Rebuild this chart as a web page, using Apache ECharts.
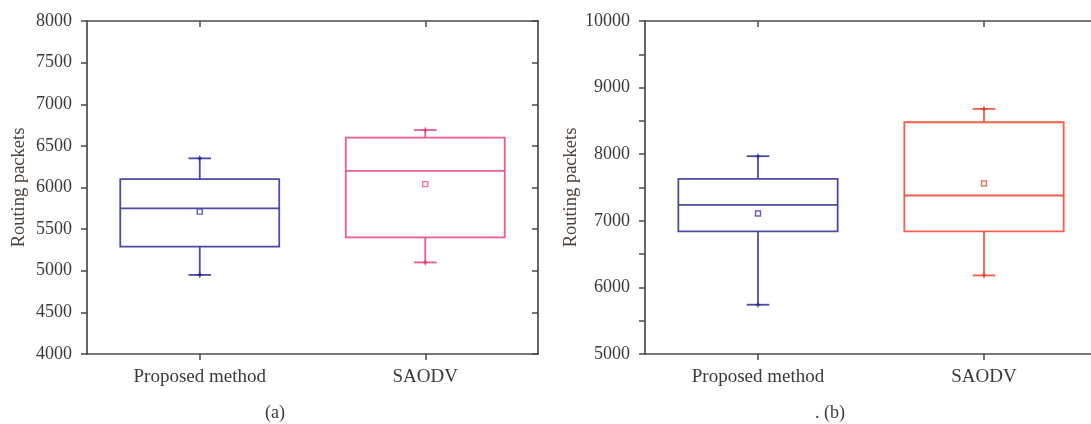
<!DOCTYPE html>
<html><head><meta charset="utf-8">
<script src="https://cdn.jsdelivr.net/npm/echarts@6.0.0/dist/echarts.min.js"></script>
<style>html,body{margin:0;padding:0;background:#fff}#c{width:1091px;height:424px}</style>
</head><body><div id="c"></div>
<script>
// ---------- data ----------
const categories = ['Proposed method', 'SAODV'];
// panel (a): [min, Q1, median, Q3, max]
const boxProposedA = [4950, 5290, 5750, 6100, 6350];
const boxSaodvA    = [5100, 5400, 6200, 6600, 6690];
const meanA = [5710, 6040];
// panel (b)
const boxProposedB = [5740, 6840, 7240, 7630, 7970];
const boxSaodvB    = [6180, 6840, 7380, 8480, 8680];
const meanB = [7110, 7560];
// axes
const yTicksA = [4000, 4500, 5000, 5500, 6000, 6500, 7000, 7500, 8000];
const yTicksB = [5000, 6000, 7000, 8000, 9000, 10000];
const yName = 'Routing packets';
const subtitleA = '(a)';
const subtitleB = '. (b)';

// ---------- style ----------
const FONT = '"Liberation Serif", "DejaVu Serif", serif';
const TXT = '#3a3a3a';
const AX = '#4a4a4a';
const colorsA = ['#3f3c9e', '#ec4f84'];
const colorsB = ['#3f3c9e', '#f0503a'];
const capMarkA = ['#2e2b80', '#d83a70'];
const capMarkB = ['#2e2b80', '#e0402a'];

function boxRender(colors) {
  return function (params, api) {
    const i = api.value(0);
    const pLo = api.coord([i, api.value(1)]);
    const pQ1 = api.coord([i, api.value(2)]);
    const pMed = api.coord([i, api.value(3)]);
    const pQ3 = api.coord([i, api.value(4)]);
    const pHi = api.coord([i, api.value(5)]);
    const band = api.size([1, 0])[0];
    const bw = band * 0.705, cw = band * 0.1;
    const x = pLo[0];
    const st = { stroke: colors[i], lineWidth: 1.8, fill: null, opacity: 0.92 };
    return {
      type: 'group',
      children: [
        { type: 'rect', shape: { x: x - bw / 2, y: pQ3[1], width: bw, height: pQ1[1] - pQ3[1] }, style: st },
        { type: 'line', shape: { x1: x - bw / 2, y1: pMed[1], x2: x + bw / 2, y2: pMed[1] }, style: st },
        { type: 'line', shape: { x1: x, y1: pQ3[1], x2: x, y2: pHi[1] }, style: st },
        { type: 'line', shape: { x1: x, y1: pQ1[1], x2: x, y2: pLo[1] }, style: st },
        { type: 'line', shape: { x1: x - cw / 2, y1: pHi[1], x2: x + cw / 2, y2: pHi[1] }, style: st },
        { type: 'line', shape: { x1: x - cw / 2, y1: pLo[1], x2: x + cw / 2, y2: pLo[1] }, style: st }
      ]
    };
  };
}

function mkGridAxes(gi, ticks, minor) {
  const min = ticks[0], max = ticks[ticks.length - 1], interval = ticks[1] - ticks[0];
  const line = { show: true, lineStyle: { color: AX, width: 1.7 } };
  const xs = [
    { type: 'category', gridIndex: gi, data: categories, position: 'bottom',
      axisLine: line, axisTick: { show: true, alignWithLabel: true, length: 6, lineStyle: { color: AX, width: 1.5 } },
      axisLabel: { fontFamily: FONT, fontSize: 19, color: TXT, margin: 14 } },
    { type: 'category', gridIndex: gi, data: categories, position: 'top',
      axisLine: line, axisTick: { show: true, inside: true, alignWithLabel: true, length: 6, lineStyle: { color: AX, width: 1.5 } },
      axisLabel: { show: false } }
  ];
  const ys = [
    { type: 'value', gridIndex: gi, position: 'left', min, max, interval,
      name: yName, nameLocation: 'middle', nameGap: gi === 0 ? 58 : 64,
      nameTextStyle: { fontFamily: FONT, fontSize: 18.5, color: '#4a4038' },
      axisLine: line, axisTick: { show: true, length: 6, lineStyle: { color: AX, width: 1.5 } },
      minorTick: { show: minor, splitNumber: 2, length: 6, lineStyle: { color: AX, width: 1.5 } },
      splitLine: { show: false },
      axisLabel: { fontFamily: FONT, fontSize: 18, color: TXT, margin: 15, formatter: v => String(v) } },
    { type: 'value', gridIndex: gi, position: 'right', min, max, interval,
      axisLine: line, axisTick: { show: true, inside: true, length: 6, lineStyle: { color: AX, width: 1.5 } },
      minorTick: { show: minor, splitNumber: 2, length: 6, lineStyle: { color: AX, width: 1.5 } },
      splitLine: { show: false }, axisLabel: { show: false } }
  ];
  return { xs, ys };
}

const gA = mkGridAxes(0, yTicksA, false);
const gB = mkGridAxes(1, yTicksB, true);

function boxData(a, b) { return [[0].concat(a), [1].concat(b)]; }
function meanData(m, colors) {
  return m.map((v, i) => ({ value: [i, v], itemStyle: { color: '#fff', borderColor: colors[i], borderWidth: 1.4 } }));
}
function endData(a, b, colors) {
  const out = [];
  [a, b].forEach((bx, i) => {
    out.push({ value: [i, bx[0]], itemStyle: { color: colors[i] } });
    out.push({ value: [i, bx[4]], itemStyle: { color: colors[i] } });
  });
  return out;
}
const STAR = 'path://M0,-1 L0.3,-0.3 L1,0 L0.3,0.3 L0,1 L-0.3,0.3 L-1,0 L-0.3,-0.3 Z';

const option = {
  animation: false,
  backgroundColor: '#fff',
  grid: [
    { left: 87, top: 21, width: 451, height: 333, outerBoundsMode: 'none', containLabel: false },
    { left: 645, top: 21, width: 452, height: 333, outerBoundsMode: 'none', containLabel: false }
  ],
  xAxis: [gA.xs[0], gA.xs[1], gB.xs[0], gB.xs[1]],
  yAxis: [gA.ys[0], gA.ys[1], gB.ys[0], gB.ys[1]],
  series: [
    { type: 'custom', xAxisIndex: 0, yAxisIndex: 0, renderItem: boxRender(colorsA),
      encode: { x: 0, y: [1, 2, 3, 4, 5] }, data: boxData(boxProposedA, boxSaodvA) },
    { type: 'custom', xAxisIndex: 2, yAxisIndex: 2, renderItem: boxRender(colorsB),
      encode: { x: 0, y: [1, 2, 3, 4, 5] }, data: boxData(boxProposedB, boxSaodvB) },
    { type: 'scatter', xAxisIndex: 0, yAxisIndex: 0, symbol: 'rect', symbolSize: 5, data: meanData(meanA, colorsA) },
    { type: 'scatter', xAxisIndex: 2, yAxisIndex: 2, symbol: 'rect', symbolSize: 5, data: meanData(meanB, colorsB) },
    { type: 'scatter', xAxisIndex: 0, yAxisIndex: 0, symbol: STAR, symbolSize: 7, data: endData(boxProposedA, boxSaodvA, capMarkA) },
    { type: 'scatter', xAxisIndex: 2, yAxisIndex: 2, symbol: STAR, symbolSize: 7, data: endData(boxProposedB, boxSaodvB, capMarkB) }
  ],
  graphic: [
    { type: 'text', x: 275, y: 413, style: { text: subtitleA, font: '18px ' + FONT, fill: TXT, textAlign: 'center', textVerticalAlign: 'middle' } },
    { type: 'text', x: 830, y: 413, style: { text: subtitleB, font: '18px ' + FONT, fill: TXT, textAlign: 'center', textVerticalAlign: 'middle' } }
  ]
};

const chart = echarts.init(document.getElementById('c'), null, { renderer: 'canvas' });
chart.setOption(option);
</script>
</body></html>
